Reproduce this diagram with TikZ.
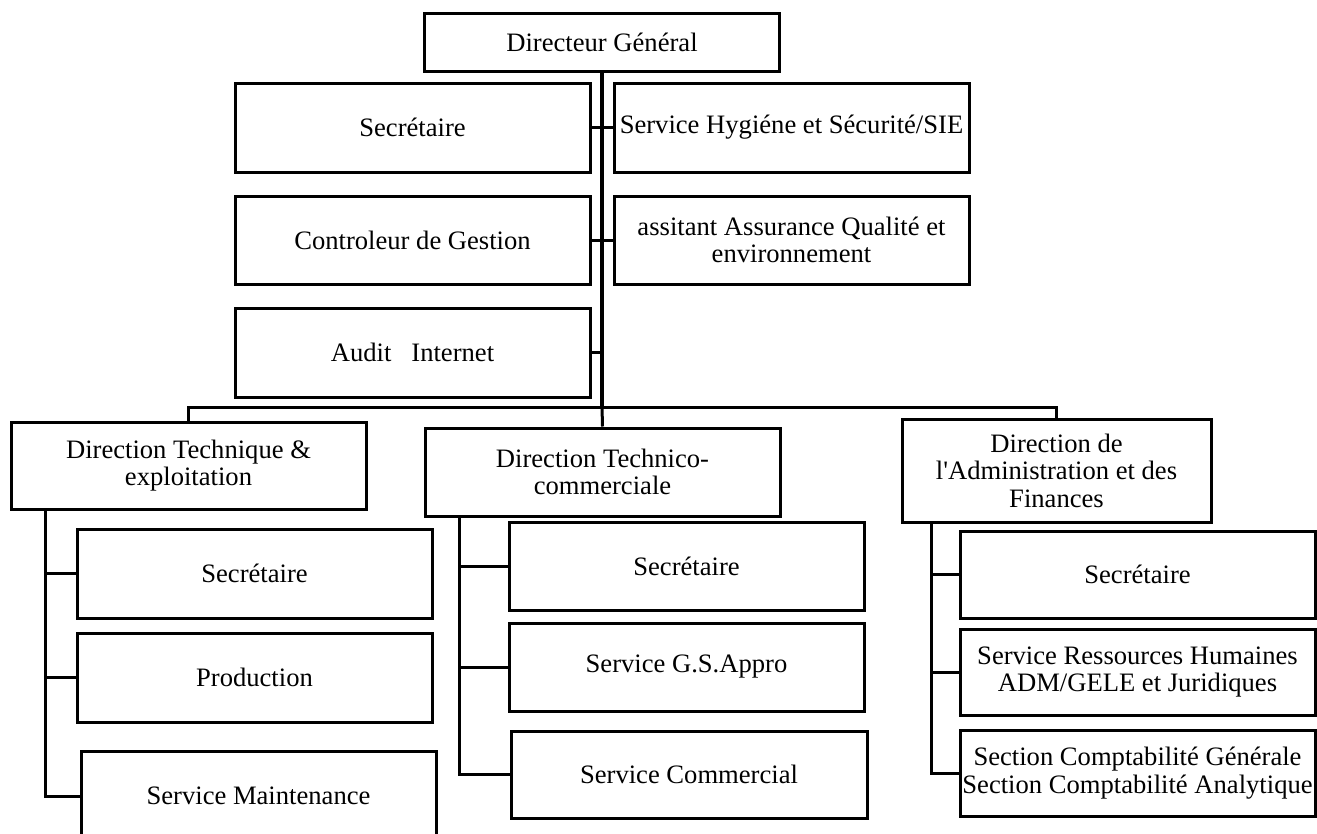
\documentclass[tikz,border=0pt]{standalone}
\usepackage{fontspec}
\setmainfont{Liberation Serif}
\newcommand{\straightq}{\XeTeXglyph\XeTeXcharglyph"0027\relax}
\begin{document}
\begin{tikzpicture}[x=1pt,y=-1pt,
  box/.style={draw, line width=3pt, inner sep=0pt, minimum width=355pt, align=center,
              font=\fontsize{26.6}{27.4}\selectfont},
  conn/.style={line width=3pt},
  trunk/.style={line width=4.8pt}]
\useasboundingbox (0,0) rectangle (1317,833);
\clip (0,0) rectangle (1317,833);
% top level
\node[box, minimum height=58pt] (dg) at (602,42) {Directeur Général};
\node[box, minimum height=89pt] (sec) at (412.5,127.5) {Secrétaire};
\node[box, minimum height=89pt] (shs) at (791.5,127.5) {Service Hygiéne et Sécurité/SIE};
\node[box, minimum height=88pt] (ctrl) at (412.5,240) {Controleur de Gestion};
\node[box, minimum height=88pt] (asst) at (791.5,240) {assitant Assurance Qualité et\\environnement};
\node[box, minimum height=89pt] (audit) at (412.5,352.5) {Audit\ \ \ Internet};
% directions
\node[box, minimum height=87pt] (dte) at (188.5,465.5) {Direction Technique \&\\exploitation};
\node[box, minimum height=88pt] (dtc) at (602.5,472) {Direction Technico-\\commerciale};
\node[box, minimum width=309pt, minimum height=103pt] (daf) at (1056.5,470.5) {Direction de\\l\straightq Administration et des\\Finances};
% DTE children
\node[box, minimum height=89pt] (dteS) at (254.5,573.5) {Secrétaire};
\node[box, minimum height=89pt] (dteP) at (254.5,677.5) {Production};
\node[box, minimum height=90pt] (dteM) at (258.5,796) {Service Maintenance};
% DTC children
\node[box, minimum height=88pt] (dtcS) at (686.5,566) {Secrétaire};
\node[box, minimum height=88pt] (dtcG) at (686.5,667) {Service G.S.Appro};
\node[box, minimum width=356pt, minimum height=87pt] (dtcC) at (689,774.5) {Service Commercial};
% DAF children
\node[box, minimum height=87pt] (dafS) at (1137.5,574.5) {Secrétaire};
\node[box, minimum height=86pt] (dafR) at (1137.5,672) {Service Ressources Humaines\\ADM/GELE et Juridiques};
\node[box, minimum height=86pt] (dafC) at (1137.5,773) {Section Comptabilité Générale\\Section Comptabilité Analytique};
% connectors top
\coordinate (bus) at (602,407);
\draw[trunk] (dg.south) -- (bus);
\draw[conn] (sec.east) -- (shs.west);
\draw[conn] (ctrl.east) -- (asst.west);
\draw[conn] (audit.east) -- (audit.east -| bus);
\draw[conn] (dte.north) -- (dte.north |- bus) -- (daf.north |- bus) -- (daf.north);
\draw[conn] (bus) -- (dtc.north);
% DTE trunk
\path (dte.south west) ++(36,0) coordinate (dteT);
\draw[conn] (dteT) |- (dteM.west);
\draw[conn] (dteS.west) -- (dteS.west -| dteT);
\draw[conn] (dteP.west) -- (dteP.west -| dteT);
% DTC trunk
\path (dtc.south west) ++(36,0) coordinate (dtcT);
\draw[conn] (dtcT) |- (dtcC.west);
\draw[conn] (dtcS.west) -- (dtcS.west -| dtcT);
\draw[conn] (dtcG.west) -- (dtcG.west -| dtcT);
% DAF trunk
\path (daf.south west) ++(31,0) coordinate (dafT);
\draw[conn] (dafT) |- (dafC.west);
\draw[conn] (dafS.west) -- (dafS.west -| dafT);
\draw[conn] (dafR.west) -- (dafR.west -| dafT);
\end{tikzpicture}
\end{document}
